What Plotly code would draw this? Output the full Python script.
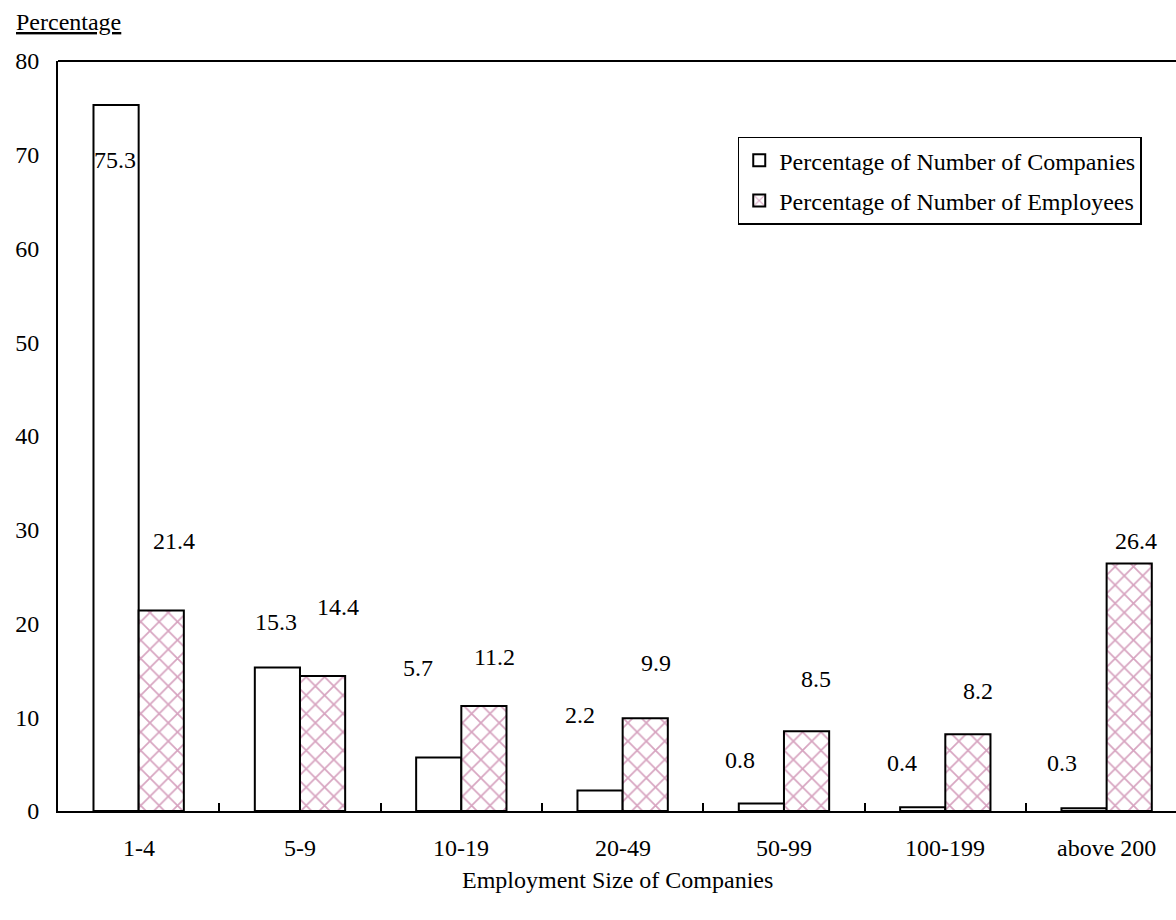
import plotly.graph_objects as go

categories = ["1-4", "5-9", "10-19", "20-49", "50-99", "100-199", "above 200"]
companies = [75.3, 15.3, 5.7, 2.2, 0.8, 0.4, 0.3]
employees = [21.4, 14.4, 11.2, 9.9, 8.5, 8.2, 26.4]
y_ticks = [0, 10, 20, 30, 40, 50, 60, 70, 80]

# label placement offsets (pixels) relative to bar top
comp_dx = [-1, -1, -21, -20, -21, -21, -22]
comp_dy = [-55, 46, 90, 75, 44, 44, 45]
emp_dx = [13, 15, 10, 11, 9, 10, 7]
emp_dy = [69, 69, 49, 55, 52, 43, 23]

FONT = "Liberation Serif, Times New Roman, serif"
FS = 24
PINK = "#b04a82"

fig = go.Figure()
fig.add_trace(go.Bar(
    x=categories, y=companies, name="Percentage of Number of Companies",
    legendgroup="a",
    marker=dict(color="white", line=dict(color="black", width=2)),
))
fig.add_trace(go.Bar(
    x=categories, y=employees, name="Percentage of Number of Employees",
    legendgroup="b",
    marker=dict(color="white", line=dict(color="black", width=2),
                pattern=dict(shape="x", fgcolor=PINK, bgcolor="white", size=13, solidity=0.25)),
))

annotations = []
for i, c in enumerate(categories):
    annotations.append(dict(x=c, y=companies[i], text=f"{companies[i]:.1f}", showarrow=False,
                            xshift=-22.7 + comp_dx[i], yshift=comp_dy[i], yanchor="middle",
                            font=dict(family=FONT, size=FS, color="black")))
    annotations.append(dict(x=c, y=employees[i], text=f"{employees[i]:.1f}", showarrow=False,
                            xshift=22.7 + emp_dx[i], yshift=emp_dy[i], yanchor="middle",
                            font=dict(family=FONT, size=FS, color="black")))
    # category tick labels
    annotations.append(dict(x=c, y=0, yref="paper", text=c, showarrow=False,
                            yshift=-37, yanchor="middle",
                            font=dict(family=FONT, size=FS, color="black")))
annotations.append(dict(x=0, xref="paper", xanchor="center", xshift=10, y=1, yref="paper",
                        yshift=39, yanchor="middle", text="<u>Percentage</u>", showarrow=False,
                        font=dict(family=FONT, size=FS, color="black")))
annotations.append(dict(x=0.5, xref="paper", xanchor="center", xshift=0, y=0, yref="paper",
                        yshift=-69, yanchor="middle", text="Employment Size of Companies",
                        showarrow=False, font=dict(family=FONT, size=FS, color="black")))

fig.update_layout(
    width=1176, height=920,
    margin=dict(l=58, r=0, t=61, b=109),
    paper_bgcolor="white", plot_bgcolor="white",
    barmode="group", bargap=0.44, bargroupgap=0,
    font=dict(family=FONT, size=FS, color="black"),
    showlegend=True,
    legend=dict(x=0.608, y=0.899, xanchor="left", yanchor="top",
                bordercolor="black", borderwidth=1.5, bgcolor="white",
                font=dict(family=FONT, size=FS, color="black"),
                tracegroupgap=6, itemwidth=30),
    annotations=annotations,
    shapes=[dict(type="line", xref="paper", yref="paper", x0=0, x1=1, y0=1, y1=1,
                 line=dict(color="black", width=2))],
)
fig.update_xaxes(
    type="category", range=[-0.5, 6.43],
    showline=True, linecolor="black", linewidth=2,
    ticks="inside", tickson="boundaries", ticklen=8, tickwidth=1.5, tickcolor="black",
    showticklabels=False, showgrid=False, zeroline=False,
)
fig.update_yaxes(
    range=[0, 80], tickvals=y_ticks,
    showline=True, linecolor="black", linewidth=2,
    ticks="", ticklabelstandoff=12, showgrid=False, zeroline=False,
)

fig.write_html("out.html")
